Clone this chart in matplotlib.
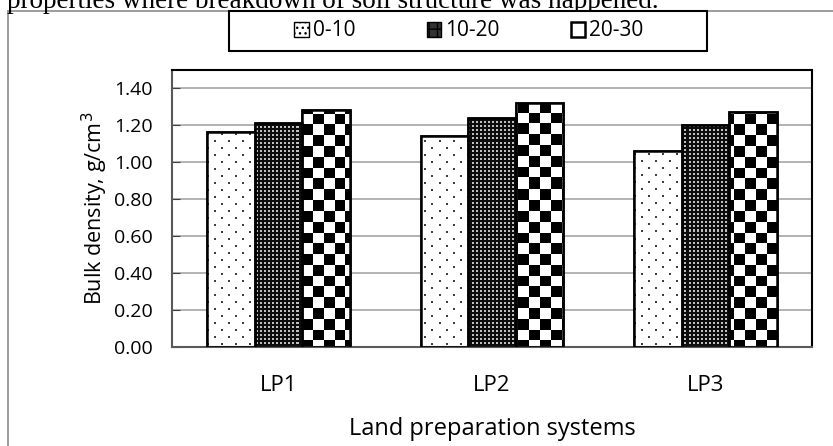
import numpy as np
import matplotlib
matplotlib.use("Agg")
import matplotlib.pyplot as plt
from matplotlib.lines import Line2D
from matplotlib.patches import Rectangle, Patch

categories = ["LP1", "LP2", "LP3"]
series_names = ["0-10", "10-20", "20-30"]
depth_0_10 = [1.16, 1.14, 1.06]
depth_10_20 = [1.21, 1.24, 1.20]
depth_20_30 = [1.28, 1.32, 1.27]
yticks = [0.0, 0.2, 0.4, 0.6, 0.8, 1.0, 1.2, 1.4]

W, H = 833, 446
fig = plt.figure(figsize=(W / 100, H / 100), dpi=100)
ax = fig.add_axes([172 / W, 1 - 347 / H, 640 / W, 277 / H])
FONT = "Open Sans"

x = np.arange(len(categories))
bw = 0.223
offs = [-bw, 0, bw]
values = [depth_0_10, depth_10_20, depth_20_30]

ax.set_xlim(-0.5, 2.5)
ax.set_ylim(0, 1.497)

# pattern images (pixel-size textures)
pw, ph = 640, 277
yy, xx = np.mgrid[0:ph, 0:pw]

def pat_dots():
    img = np.ones((ph, pw, 3))
    row = yy // 7
    m = ((yy % 7) < 2) & (((xx + (row % 2) * 7) % 14) < 2)
    img[m] = 0.25
    return img

def pat_dense():
    img = np.full((ph, pw, 3), 0.05)
    m = ((yy % 4) < 2) & ((xx % 4) < 2)
    img[m] = 0.75
    return img

def pat_checker():
    s = 10.8
    c = ((np.floor(xx / s) + np.floor(yy / s)) % 2).astype(bool)
    img = np.ones((ph, pw, 3))
    img[c] = 0.0
    return img

patterns = [pat_dots(), pat_dense(), pat_checker()]

ax.set_yticks(yticks)
ax.set_yticklabels([f"{t:.2f}" for t in yticks])
ax.yaxis.grid(True, color="#a6a6a6", linewidth=1.2)
ax.set_axisbelow(True)

for i, (vals, pat) in enumerate(zip(values, patterns)):
    bars = ax.bar(x + offs[i], vals, width=bw, facecolor="white",
                  edgecolor="black", linewidth=1.8, zorder=2)
    for b in bars:
        im = ax.imshow(pat, extent=(-0.5, 2.5, 0, 1.497), aspect="auto",
                       origin="upper", interpolation="nearest", zorder=2.5)
        im.set_clip_path(b)
        r = Rectangle(b.get_xy(), b.get_width(), b.get_height(),
                      facecolor="none", edgecolor="black", linewidth=1.8,
                      zorder=3)
        ax.add_patch(r)

ax.set_xticks(x)
ax.set_xticklabels(categories, fontsize=16, fontfamily=FONT)
for lab in ax.get_yticklabels():
    lab.set_fontfamily(FONT)
    lab.set_fontsize(14)
ax.tick_params(axis="x", length=0, pad=20)
ax.tick_params(axis="y", direction="in", length=6, color="#404040", pad=14)

for sp in ["left", "bottom"]:
    ax.spines[sp].set_color("#595959")
    ax.spines[sp].set_linewidth(1.5)
for sp in ["top", "right"]:
    ax.spines[sp].set_color("black")
    ax.spines[sp].set_linewidth(1.5)

ax.set_xlabel("Land preparation systems", fontsize=17, fontfamily=FONT,
              labelpad=15)
ax.set_ylabel("Bulk density, g/cm$^3$", fontsize=15.5, fontfamily=FONT,
              labelpad=3)

# legend
fig.add_artist(Rectangle((229 / W, 1 - 51 / H), 478 / W, 40 / H,
                         transform=fig.transFigure, facecolor="white",
                         edgecolor="black", linewidth=1.5, zorder=4))
handles = [Patch(facecolor="white", edgecolor="black", hatch="..."),
           Patch(facecolor="#333333", edgecolor="black", hatch="++"),
           Patch(facecolor="white", edgecolor="black", linewidth=1.8)]
leg = fig.legend(handles, series_names, ncol=3,
                 bbox_to_anchor=(469 / W, 1 - 31 / H), loc="center",
                 frameon=False, handlelength=0.7, handleheight=0.7,
                 handletextpad=0.2, columnspacing=3.4,
                 prop={"family": FONT, "size": 15})
leg.set_zorder(5)

# outer frame lines and caption
fig.add_artist(Line2D([8 / W, 1], [1 - 11 / H, 1 - 11 / H],
                      transform=fig.transFigure, color="#8c8c8c", lw=1.2,
                      zorder=0))
fig.add_artist(Line2D([8 / W, 8 / W], [0, 1 - 11 / H],
                      transform=fig.transFigure, color="#8c8c8c", lw=1.2,
                      zorder=0))
fig.text(7 / W, 1 - 7.5 / H,
         "properties where breakdown of soil structure was happened.",
         fontfamily="Liberation Serif", fontsize=19.5, va="baseline", ha="left")

fig.savefig("out.png", dpi=100)
